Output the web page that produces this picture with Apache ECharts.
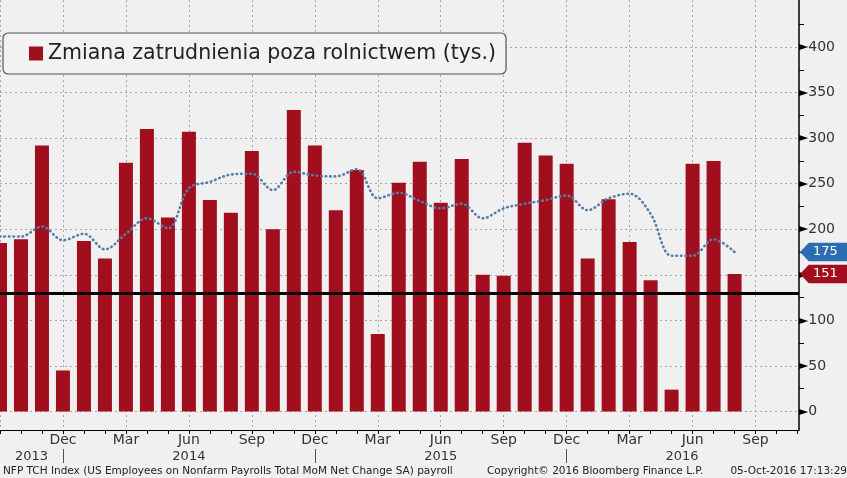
<!DOCTYPE html>
<html><head><meta charset="utf-8">
<script src="https://cdn.jsdelivr.net/npm/echarts@6/dist/echarts.min.js"></script>
<style>html,body{margin:0;padding:0;background:#f0f0f0}#c{width:847px;height:478px}</style>
</head><body><div id="c"></div><script>
// ---- data ----
const categories = [
  '2013-09','2013-10','2013-11','2013-12',
  '2014-01','2014-02','2014-03','2014-04','2014-05','2014-06','2014-07','2014-08','2014-09','2014-10','2014-11','2014-12',
  '2015-01','2015-02','2015-03','2015-04','2015-05','2015-06','2015-07','2015-08','2015-09','2015-10','2015-11','2015-12',
  '2016-01','2016-02','2016-03','2016-04','2016-05','2016-06','2016-07','2016-08'
];
const payrollChange = [
  185,189,292,45,
  187,168,273,310,213,307,232,218,286,200,331,292,
  221,265,85,251,274,229,277,150,149,295,281,272,
  168,233,186,144,24,272,275,151
];
const movingAvg = [
  192,192,203,188,
  195,178,195,212,201,245,252,260,261,243,263,259,
  258,266,234,240,231,223,228,212,223,228,232,237,
  221,234,239,217,171,171,189,175
];
const monthAbbr = ['Jan','Feb','Mar','Apr','May','Jun','Jul','Aug','Sep','Oct','Nov','Dec'];
const firstMonth = 8; // Sep 2013 = index 0
const monthTickIdx = [0,1,2,3,4,5,6,7,8,9,10,11,12,13,14,15,16,17,18,19,20,21,22,23,24,25,26,27,28,29,30,31,32,33,34,35,36,37,38];
const monthLabelIdx = [3,6,9,12,15,18,21,24,27,30,33,36];
const gridLineIdx = [0,3,6,9,12,15,18,21,24,27,30,33,36];
const yearLabels = ['2013','2014','2015','2016'];
const yearLabelPos = [1.5,9,21,32.5];
const yearSepIdx = [3,15,27];
const yTicks = [0,50,100,150,200,250,300,350,400];
const yMinorTicks = [25,75,125,175,225,275,325,375,425];
const refLevel = 130;
const seriesName = 'Zmiana zatrudnienia poza rolnictwem (tys.)';
const avgName = 'Średnia';

// ---- styling ----
const FONT = 'DejaVu Sans';
const RED = '#a10f1f';
const BLUE = '#2b6cb3';
const X_MIN = 0, X_MAX = 38.07, Y_MIN = -20.3, Y_MAX = 451.6;
const tagSvg = c => 'data:image/svg+xml;charset=utf-8,' + encodeURIComponent(
  '<svg xmlns="http://www.w3.org/2000/svg" width="50" height="19" viewBox="0 0 50 19"><path d="M0 9.5 L9 0 H50 V19 H9 Z" fill="' + c + '"/></svg>');
const lastAvg = movingAvg[movingAvg.length - 1];
const lastBar = payrollChange[payrollChange.length - 1];

const chart = echarts.init(document.getElementById('c'), null, {renderer: 'canvas'});
const xBase = {type: 'value', min: X_MIN, max: X_MAX, position: 'bottom'};
const yBase = {type: 'value', min: Y_MIN, max: Y_MAX, position: 'right'};
const dashed = {show: true, lineStyle: {color: '#a8a8a8', type: [2, 3], width: 1}};

chart.setOption({
  backgroundColor: '#f0f0f0',
  animation: false,
  grid: {left: 0, right: 48, top: 0, bottom: 48, containLabel: false, outerBoundsMode: 'none'},
  legend: {
    data: [seriesName], left: 3, top: 33,
    padding: [10, 10, 10, 26],
    icon: 'rect', itemWidth: 14, itemHeight: 14,
    backgroundColor: '#f2f2f2', borderColor: '#555', borderWidth: 1.2, borderRadius: 5,
    textStyle: {fontFamily: FONT, fontSize: 20.5, color: '#222'}
  },
  xAxis: [
    Object.assign({}, xBase, {
      axisLine: {show: true, onZero: false, lineStyle: {color: '#000', width: 1}},
      axisTick: {show: true, customValues: monthTickIdx, length: 4, inside: false, lineStyle: {color: '#000'}},
      axisLabel: {customValues: monthLabelIdx, margin: 3, fontFamily: FONT, fontSize: 14, color: '#333',
        formatter: v => monthAbbr[(firstMonth + v) % 12]},
      splitLine: {show: false}
    }),
    Object.assign({}, xBase, {
      offset: 19,
      axisLine: {show: false, onZero: false},
      axisTick: {show: true, customValues: yearSepIdx, length: 14, lineStyle: {color: '#555'}},
      axisLabel: {customValues: yearLabelPos, margin: 1, fontFamily: FONT, fontSize: 13, color: '#333',
        formatter: v => yearLabels[yearLabelPos.indexOf(v)]},
      splitLine: {show: false}
    }),
    Object.assign({}, xBase, {
      axisLine: {show: false, onZero: false},
      axisTick: {show: false, customValues: gridLineIdx},
      axisLabel: {show: false},
      splitLine: dashed
    })
  ],
  yAxis: [
    Object.assign({}, yBase, {
      axisLine: {show: true, onZero: false, lineStyle: {color: '#000', width: 1.5}},
      axisTick: {show: false, customValues: yTicks},
      axisLabel: {customValues: yTicks, margin: 0, color: '#333',
        formatter: v => '{t|►}{n|' + v + '}',
        rich: {t: {fontFamily: FONT, fontSize: 12, color: '#000'},
               n: {fontFamily: FONT, fontSize: 14, color: '#333', padding: [0, 0, 0, 0]}}},
      splitLine: dashed
    }),
    Object.assign({}, yBase, {
      axisLine: {show: false, onZero: false},
      axisTick: {show: true, customValues: yMinorTicks, length: 5, lineStyle: {color: '#000'}},
      axisLabel: {show: false},
      splitLine: {show: false}
    }),
    Object.assign({}, yBase, {
      axisLine: {show: false, onZero: false},
      axisTick: {show: false, customValues: [lastAvg, lastBar]},
      axisLabel: {customValues: [lastAvg, lastBar], margin: 1,
        formatter: v => (v === lastAvg ? '{b|' : '{r|') + v + '}',
        rich: {
          b: {backgroundColor: {image: tagSvg(BLUE)}, color: '#fff', fontFamily: FONT, fontSize: 13,
              width: 37, height: 19, lineHeight: 19, padding: [0, 0, 0, 13], align: 'left'},
          r: {backgroundColor: {image: tagSvg(RED)}, color: '#fff', fontFamily: FONT, fontSize: 13,
              width: 37, height: 19, lineHeight: 19, padding: [0, 0, 0, 13], align: 'left'}
        }},
      splitLine: {show: false}
    })
  ],
  series: [
    {
      name: seriesName, type: 'bar', xAxisIndex: 0, yAxisIndex: 0,
      barWidth: 14, itemStyle: {color: RED},
      data: payrollChange.map((v, i) => [i, v]),
      markLine: {
        silent: true, symbol: ['none', 'none'], label: {show: false},
        lineStyle: {color: '#000', width: 3, type: 'solid'},
        data: [{yAxis: refLevel}]
      },
      z: 2
    },
    {
      name: avgName, type: 'line', xAxisIndex: 0, yAxisIndex: 0,
      smooth: 0.35, showSymbol: false,
      lineStyle: {color: '#557ba6', width: 2.6, type: [0.5, 4], cap: 'round'},
      data: movingAvg.map((v, i) => [i, v]),
      z: 3
    }
  ],
  graphic: [
    {type: 'text', left: 16, top: 48, style: {text: '⊞', font: '9px "DejaVu Sans"', fill: '#aaa'}},
    {type: 'text', left: 3, top: 466, style: {text: 'NFP TCH Index (US Employees on Nonfarm Payrolls Total MoM Net Change SA) payroll', font: '10.5px "DejaVu Sans"', fill: '#222'}},
    {type: 'text', left: 487, top: 466, style: {text: 'Copyright© 2016 Bloomberg Finance L.P.', font: '10.5px "DejaVu Sans"', fill: '#222'}},
    {type: 'text', right: 0, top: 466, style: {text: '05-Oct-2016 17:13:29', font: '10.5px "DejaVu Sans"', fill: '#222'}}
  ]
});
</script></body></html>
